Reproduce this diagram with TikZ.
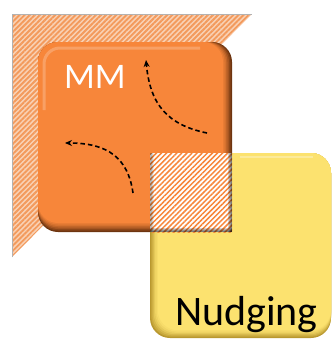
\documentclass[tikz,border=0pt]{standalone}
\usepackage{fontspec}
\setmainfont{Carlito}
\usetikzlibrary{patterns.meta,arrows.meta}
\definecolor{mmorange}{HTML}{F7863A}
\definecolor{mmdark}{HTML}{6E3510}
\definecolor{nudyellow}{HTML}{FCE26F}
\definecolor{nuddark}{HTML}{B9982F}
\definecolor{hatchpeach}{HTML}{F9D2B6}
\definecolor{hatchline}{HTML}{F39A5C}
\tikzset{
  flowarrow/.style={black, line width=1.6pt, dash pattern=on 4.5pt off 3pt,
    -{Stealth[length=7pt,width=6pt]}},
  boxlabel/.style={inner sep=0pt, anchor=base west}
}
\begin{document}
\begin{tikzpicture}[x=1pt,y=-1pt]
\useasboundingbox (0,0) rectangle (334,340);

% hatched triangle behind the MM block
\fill[hatchpeach] (12,14) -- (252,14) -- (12,257) -- cycle;
\fill[pattern={Lines[angle=45,distance=3.6pt,line width=1.9pt]}, pattern color=hatchline]
  (12,14) -- (252,14) -- (12,257) -- cycle;
\draw[gray!60, line width=0.8pt] (12,257) -- (12,14) -- (252,14);

% MM block with bevel (dark lower-right rim)
\foreach \i/\m in {0/0,1/20,2/40,3/60,4/75,5/88,6/100}{
  \fill[mmorange!\m!mmdark, rounded corners=20pt]
    (38,42) rectangle ({232-1.5*\i},{232-1.5*\i});
}
\draw[white, opacity=0.22, line width=3pt, rounded corners=16pt]
  (44,110) -- (44,48) -- (200,48);

% Nudging block with bevel (dark left and bottom rim)
\foreach \i/\m in {0/0,1/25,2/45,3/65,4/80,5/92,6/100}{
  \fill[nudyellow!\m!nuddark, rounded corners=20pt]
    ({150+1.3*\i},153) rectangle (331,{338-1.3*\i});
}
\draw[white, opacity=0.3, line width=2.5pt, rounded corners=16pt]
  (240,157) -- (313,157);

% overlap of the two blocks
\fill[white] (150,153) rectangle (232,232);
\fill[pattern={Lines[angle=45,distance=3.6pt,line width=1.5pt]}, pattern color=mmorange]
  (150,153) rectangle (232,232);
\foreach \i in {0,1,2,3,4}{
  \fill[black, opacity=0.16] ({228+\i},153) rectangle (232,232);
  \fill[black, opacity=0.16] (150,{228+\i}) rectangle (232,232);
  \fill[black, opacity=0.06] (150,153) rectangle ({151.5+0.5*\i},232);
}

% labels
\node[boxlabel, text=white, font=\fontsize{36}{36}\selectfont] (mm) at (64,88) {MM};
\node[boxlabel, text=black, font=\fontsize{42}{42}\selectfont] (nudging) at (175,325) {Nudging};

% dashed flow arrows inside MM
\coordinate (a1s) at (207,133);
\coordinate (a1e) at (146,60);
\coordinate (a2s) at (133,193);
\coordinate (a2e) at (65,143);
\draw[flowarrow] (a1s) .. controls (168,125) and (150,105) .. (a1e);
\draw[flowarrow] (a2s) .. controls (128,158) and (108,143) .. (a2e);
\end{tikzpicture}
\end{document}
